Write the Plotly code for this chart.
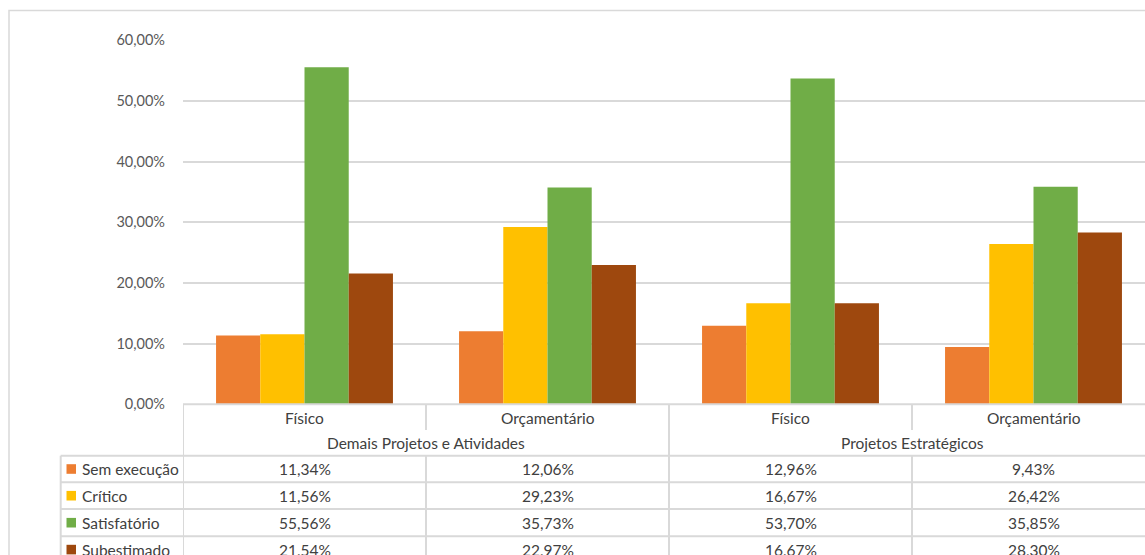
import plotly.graph_objects as go

W, H = 1145, 555

groups = ["Demais Projetos e Atividades", "Projetos Estratégicos"]
subcats = ["Físico", "Orçamentário", "Físico", "Orçamentário"]
cat_keys = ["D-Físico", "D-Orçamentário", "P-Físico", "P-Orçamentário"]

series_names = ["Sem execução", "Crítico", "Satisfatório", "Subestimado"]
sem_execucao = [11.34, 12.06, 12.96, 9.43]
critico = [11.56, 29.23, 16.67, 26.42]
satisfatorio = [55.56, 35.73, 53.70, 35.85]
subestimado = [21.54, 22.97, 16.67, 28.30]
series_values = [sem_execucao, critico, satisfatorio, subestimado]
colors = ["#ED7D31", "#FFC000", "#70AD47", "#9E480E"]

y_ticks = [0, 0.1, 0.2, 0.3, 0.4, 0.5, 0.6]

FONT = "Lato"
TXT = "#404040"
GRID = "#D9D9D9"
TS = 15.5

def py(px):
    return 1 - px / H

def pxx(px):
    return px / W

fig = go.Figure()
for name, vals, col in zip(series_names, series_values, colors):
    fig.add_trace(go.Bar(
        x=cat_keys, y=[v / 100 for v in vals], name=name,
        marker=dict(color=col, line=dict(width=0)),
        showlegend=False, hoverinfo="skip",
    ))

plot_left = 183
fig.update_layout(
    width=W, height=H, autosize=False,
    margin=dict(l=0, r=0, t=0, b=0, autoexpand=False),
    paper_bgcolor="white", plot_bgcolor="white",
    barmode="group", bargap=0.272, bargroupgap=0,
    separators=",.",
    font=dict(family=FONT, color=TXT, size=TS),
    xaxis=dict(
        type="category", domain=[pxx(plot_left), 1], automargin=False,
        range=[-0.5, -0.5 + (W - plot_left) / 243.0],
        showticklabels=False, showgrid=False, zeroline=False,
        showline=False, ticks="",
    ),
    yaxis=dict(
        domain=[py(404.3), py(40.3)], range=[0, 0.6], automargin=False,
        tickvals=y_ticks, tickformat=".2%",
        showgrid=True, gridcolor=GRID, gridwidth=1.5,
        zeroline=False, showline=False, ticks="",
        tickfont=dict(family=FONT, size=14.5, color="#595959"),
        ticklabelstandoff=17,
    ),
)

shapes = []
LINE = dict(color=GRID, width=2)
shapes.append(dict(type="rect", xref="paper", yref="paper",
                   x0=pxx(9), x1=pxx(W + 10), y0=py(H + 10), y1=py(10.5),
                   line=dict(color=GRID, width=1.5), layer="below"))
shapes.append(dict(type="line", xref="paper", yref="paper",
                   x0=pxx(plot_left), x1=1, y0=py(404.3), y1=py(404.3), line=LINE))
row_lines = [455.7, 482.3, 509.0, 536.3]
for yl in row_lines:
    shapes.append(dict(type="line", xref="paper", yref="paper",
                       x0=pxx(60.7), x1=1, y0=py(yl), y1=py(yl), line=LINE))
for xv in [-0.5, 1.5]:
    shapes.append(dict(type="line", xref="x", yref="paper",
                       x0=xv, x1=xv, y0=py(404.3), y1=py(H + 10), line=LINE))
for xv in [0.5, 2.5]:
    shapes.append(dict(type="line", xref="x", yref="paper",
                       x0=xv, x1=xv, y0=py(404.3), y1=py(430), line=LINE))
    shapes.append(dict(type="line", xref="x", yref="paper",
                       x0=xv, x1=xv, y0=py(455.7), y1=py(H + 10), line=LINE))
shapes.append(dict(type="line", xref="paper", yref="paper",
                   x0=pxx(60.7), x1=pxx(60.7), y0=py(455.7), y1=py(H + 10), line=LINE))

annotations = []
for i, s in enumerate(subcats):
    annotations.append(dict(x=i, y=py(417.5), xref="x", yref="paper", text=s,
                            showarrow=False, xanchor="center", yanchor="middle",
                            font=dict(family=FONT, size=TS, color=TXT)))
for gi, g in enumerate(groups):
    annotations.append(dict(x=2 * gi + 0.5, y=py(443), xref="x", yref="paper", text=g,
                            showarrow=False, xanchor="center", yanchor="middle",
                            font=dict(family=FONT, size=TS, color=TXT)))
row_centers = [469.0, 495.7, 522.7, 549.6]
for r, (name, vals, col) in enumerate(zip(series_names, series_values, colors)):
    yc = row_centers[r]
    shapes.append(dict(type="rect", xref="paper", yref="paper",
                       x0=pxx(66.5), x1=pxx(76), y0=py(yc + 4.8), y1=py(yc - 4.8),
                       fillcolor=col, line=dict(width=0)))
    annotations.append(dict(x=pxx(80), y=py(yc), xref="paper", yref="paper", text=name,
                            showarrow=False, xanchor="left", yanchor="middle",
                            font=dict(family=FONT, size=TS, color=TXT)))
    for i, v in enumerate(vals):
        annotations.append(dict(x=i, y=py(yc), xref="x", yref="paper",
                                text=f"{v:.2f}%".replace(".", ","),
                                showarrow=False, xanchor="center", yanchor="middle",
                                font=dict(family=FONT, size=TS, color=TXT)))

fig.update_layout(shapes=shapes, annotations=annotations)
fig.write_html(
    "out.html",
    config={"displayModeBar": False},
    post_script=(
        "document.documentElement.style.margin='0';"
        "document.body.style.margin='0';"
        "document.body.style.overflow='hidden';"
        "document.documentElement.style.overflow='hidden';"
        "var gd=document.getElementById('{plot_id}');"
        "gd.style.position='fixed';gd.style.top='0px';gd.style.left='0px';"
    ),
)
